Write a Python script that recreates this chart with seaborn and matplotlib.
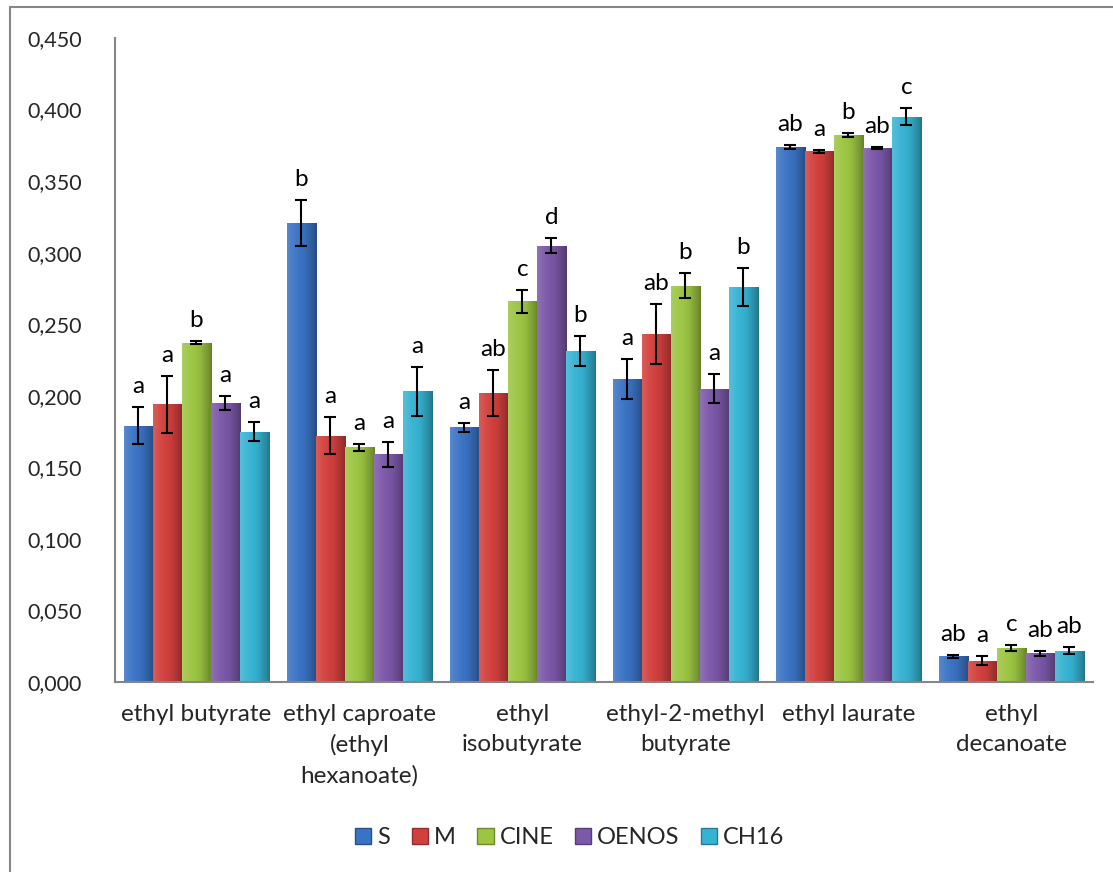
"""
plot.py
-------
Grouped bar chart of ethyl ester levels per yeast strain, with error bars
and significance letters (Excel-like styling).
"""

import numpy as np
import pandas as pd
import matplotlib.pyplot as plt
import seaborn as sns
from matplotlib.colors import to_rgb
from matplotlib.patches import Patch
from matplotlib.lines import Line2D

# ── Data ──────────────────────────────────────────────────────────────────────

COMPOUNDS = [
    "ethyl butyrate",
    "ethyl caproate\n(ethyl\nhexanoate)",
    "ethyl\nisobutyrate",
    "ethyl-2-methyl\nbutyrate",
    "ethyl laurate",
    "ethyl\ndecanoate",
]
SAMPLES = ["S", "M", "CINE", "OENOS", "CH16"]
COLORS = ["#3B73C4", "#D2403D", "#9CC542", "#7C58A8", "#36B3D2"]

S_MEAN = [0.179, 0.321, 0.178, 0.212, 0.374, 0.018]
M_MEAN = [0.194, 0.172, 0.202, 0.243, 0.371, 0.015]
CINE_MEAN = [0.237, 0.164, 0.266, 0.277, 0.382, 0.024]
OENOS_MEAN = [0.195, 0.159, 0.305, 0.205, 0.373, 0.020]
CH16_MEAN = [0.175, 0.203, 0.231, 0.276, 0.395, 0.022]

S_ERR = [0.013, 0.016, 0.003, 0.014, 0.0015, 0.001]
M_ERR = [0.020, 0.013, 0.016, 0.021, 0.001, 0.003]
CINE_ERR = [0.001, 0.0026, 0.008, 0.009, 0.0015, 0.002]
OENOS_ERR = [0.005, 0.009, 0.005, 0.010, 0.0006, 0.0015]
CH16_ERR = [0.0066, 0.017, 0.0105, 0.013, 0.006, 0.0025]

S_LET = ["a", "b", "a", "a", "ab", "ab"]
M_LET = ["a", "a", "ab", "ab", "a", "a"]
CINE_LET = ["b", "a", "c", "b", "b", "c"]
OENOS_LET = ["a", "a", "d", "a", "ab", "ab"]
CH16_LET = ["a", "a", "b", "b", "c", "ab"]

MEANS = [S_MEAN, M_MEAN, CINE_MEAN, OENOS_MEAN, CH16_MEAN]
ERRS = [S_ERR, M_ERR, CINE_ERR, OENOS_ERR, CH16_ERR]
LETTERS = [S_LET, M_LET, CINE_LET, OENOS_LET, CH16_LET]

FONT = "Lato"


def shade(color, amount):
    """amount > 0 lightens toward white, < 0 darkens toward black."""
    c = np.array(to_rgb(color))
    if amount >= 0:
        return c + (1 - c) * amount
    return c * (1 + amount)


def bar_gradient(ax, patch, color):
    x0, y0 = patch.get_x(), patch.get_y()
    w, h = patch.get_width(), patch.get_height()
    if h <= 0:
        return
    t = np.linspace(0, 1, 64)
    amt = np.interp(t, [0, 0.25, 0.6, 0.9, 1.0], [0.15, 0.05, -0.05, -0.25, -0.35])
    row = np.array([shade(color, a) for a in amt])
    img = np.repeat(row[np.newaxis, :, :], 2, axis=0)
    im = ax.imshow(img, extent=(x0, x0 + w, y0, y0 + h), aspect="auto",
                   interpolation="bilinear", zorder=patch.get_zorder() + 0.1)
    im.set_clip_path(patch)


# ── Plot ──────────────────────────────────────────────────────────────────────

df = pd.DataFrame({
    "compound": np.repeat([COMPOUNDS], len(SAMPLES), axis=0).ravel(),
    "sample": np.repeat(SAMPLES, len(COMPOUNDS)),
    "value": np.concatenate(MEANS),
})

sns.set_style("white")
plt.rcParams["font.family"] = [FONT, "DejaVu Sans"]

fig = plt.figure(figsize=(11.13, 8.72), dpi=100)
ax = fig.add_axes([0.1033, 0.2179, 0.8787, 0.7385])

sns.barplot(data=df, x="compound", y="value", hue="sample",
            order=COMPOUNDS, hue_order=SAMPLES, palette=COLORS,
            width=0.89, gap=0, errorbar=None, legend=False,
            saturation=1, linewidth=0, ax=ax)

for container, color, errs, lets in zip(ax.containers, COLORS, ERRS, LETTERS):
    for patch, err, let in zip(container.patches, errs, lets):
        bar_gradient(ax, patch, color)
        xc = patch.get_x() + patch.get_width() / 2
        h = patch.get_height()
        ax.errorbar(xc, h, yerr=err, fmt="none", ecolor="black",
                    elinewidth=1.5, capsize=4.5, capthick=1.5, zorder=5)
        ax.text(xc, h + err + 0.007, let, ha="center", va="bottom",
                fontsize=17.5, color="black", zorder=6)

ax.set_ylim(0, 0.45)
ax.set_xlim(-0.5, len(COMPOUNDS) - 0.5)
ax.set_yticks(np.arange(0, 0.451, 0.05))
ax.set_yticklabels([f"{v:.3f}".replace(".", ",") for v in np.arange(0, 0.451, 0.05)])
ax.set_xlabel("")
ax.set_ylabel("")
ax.tick_params(axis="y", length=0, pad=24, labelsize=15.5)
ax.tick_params(axis="x", length=0, pad=16, labelsize=17.5)
for lbl in ax.get_xticklabels():
    lbl.set_linespacing(1.5)

sns.despine(ax=ax, top=True, right=True)
for side in ["left", "bottom"]:
    ax.spines[side].set_color("#868686")
    ax.spines[side].set_linewidth(1.5)

handles = [Patch(facecolor=c, edgecolor=shade(c, -0.3), label=s)
           for c, s in zip(COLORS, SAMPLES)]
fig.legend(handles=handles, loc="center", bbox_to_anchor=(0.512, 0.039),
           ncol=5, frameon=False, fontsize=17, handlelength=0.7,
           handleheight=0.7, handletextpad=0.25, columnspacing=0.9)

# outer chart-area border (left and top edges visible)
fig.add_artist(Line2D([10 / 1113, 10 / 1113], [0, 1 - 7 / 872],
                      transform=fig.transFigure, color="#868686", lw=1.5))
fig.add_artist(Line2D([10 / 1113, 1], [1 - 7 / 872, 1 - 7 / 872],
                      transform=fig.transFigure, color="#868686", lw=1.5))

fig.savefig("out.png", dpi=100)
